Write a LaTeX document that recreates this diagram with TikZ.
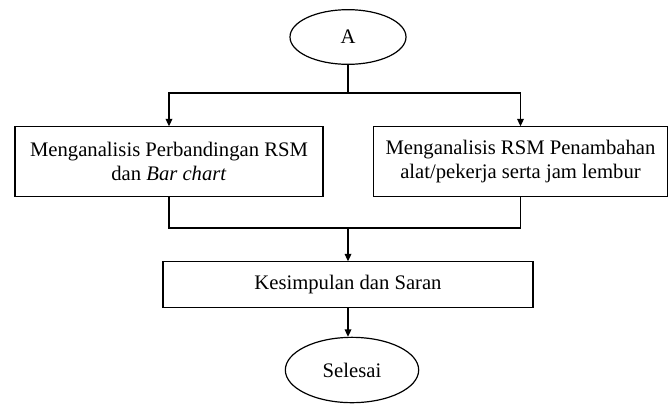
\documentclass[tikz,border=0pt]{standalone}
\usepackage{fontspec}
\setmainfont{Liberation Serif}
\usetikzlibrary{shapes.geometric, arrows.meta}

\begin{document}
\begin{tikzpicture}[x=0.75pt, y=-0.75pt,
    every node/.style={font=\fontsize{15.5}{17.5}\selectfont},
    term/.style={ellipse, draw, line width=0.9pt, inner sep=0pt},
    proc/.style={rectangle, draw, line width=0.9pt, align=center, inner sep=0pt},
    flow/.style={line width=0.9pt, -{Triangle[length=5.5pt, width=5pt]}}]
    \useasboundingbox (0,0) rectangle (670,404);

    % Draw the start and end terminals
    \node[term, minimum width=87pt, minimum height=41pt] (A) at (348,37) {A};
    \node[term, minimum width=100pt, minimum height=49pt] (Selesai) at (352,370) {Selesai};

    % Draw the process boxes
    \node[proc, minimum width=231pt, minimum height=52pt] (Perbandingan) at (169,161.5)
        {Menganalisis Perbandingan RSM\\dan \textit{Bar chart}};
    \node[proc, minimum width=221pt, minimum height=52pt] (Penambahan) at (520.5,161.5)
        {Menganalisis RSM Penambahan\\alat/pekerja serta jam lembur};
    \node[proc, minimum width=277.5pt, minimum height=34pt] (Kesimpulan) at (348,284.5)
        {Kesimpulan dan Saran};

    % Define coordinates for the branch points
    \coordinate (Split) at (348,93);
    \coordinate (Join) at (348,228);

    % Connect the nodes
    \draw[line width=0.9pt] (A) -- (Split);
    \foreach \target in {Perbandingan, Penambahan}
        \draw[flow] (Split) -| (\target);
    \draw[line width=0.9pt] (Perbandingan) |- (Join) -| (Penambahan);
    \draw[flow] (Join) -- (Kesimpulan);
    \draw[flow] (Kesimpulan.south) -- (Kesimpulan.south |- Selesai.north);
\end{tikzpicture}
\end{document}
